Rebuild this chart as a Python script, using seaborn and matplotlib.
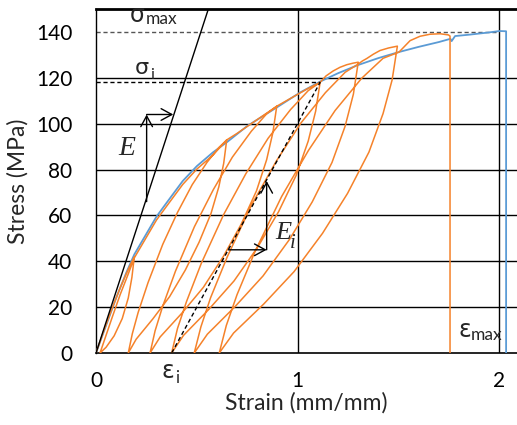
import matplotlib
matplotlib.use("Agg")
import matplotlib.pyplot as plt
import pandas as pd
import seaborn as sns

# ---------------- data ----------------
y_ticks = [0, 20, 40, 60, 80, 100, 120, 140]
x_ticks = [0, 1, 2]
grid_y = [20, 40, 60, 80, 100, 120]
grid_x = [1, 2]

# monotonic envelope (blue)
env_strain = [0.0, 0.05, 0.10, 0.15, 0.19, 0.25, 0.30, 0.35, 0.43, 0.50, 0.58, 0.65,
              0.75, 0.90, 1.01, 1.11, 1.20, 1.30, 1.40, 1.50, 1.60, 1.70, 1.757,
              1.763, 1.78, 1.85, 1.95, 2.00, 2.033, 2.033]
env_stress = [0.0, 12.0, 24.0, 35.0, 43.0, 52.0, 59.5, 65.5, 75.0, 81.5, 87.5, 92.0,
              99.0, 107.3, 113.5, 118.3, 122.0, 125.6, 128.6, 131.2, 133.5, 135.6, 137.0,
              136.0, 138.2, 138.8, 139.8, 140.4, 140.3, 0.0]

# cyclic test (orange), segments in loading order
load0_x = [0.0, 0.04, 0.08, 0.12, 0.16, 0.19]
load0_y = [0.0, 10.0, 19.5, 28.5, 36.5, 42.0]
unl0_x = [0.19, 0.178, 0.16, 0.13, 0.09, 0.05, 0.02]
unl0_y = [42.0, 33.0, 24.0, 15.0, 7.5, 2.5, 0.0]
rel0_x = [0.02, 0.045, 0.08, 0.12, 0.16, 0.19]
rel0_y = [0.0, 6.5, 15.5, 25.5, 34.5, 41.5]
envA_x = [0.19, 0.25, 0.30, 0.35, 0.43, 0.50, 0.58, 0.648]
envA_y = [41.5, 50.5, 58.0, 64.0, 73.5, 80.2, 86.3, 92.9]

unl1_x = [0.648, 0.633, 0.609, 0.570, 0.511, 0.443, 0.365, 0.282, 0.199, 0.160]
unl1_y = [92.9, 82.7, 72.5, 60.8, 48.3, 36.2, 24.6, 14.9, 6.0, 0.0]
rel1_x = [0.160, 0.180, 0.209, 0.258, 0.331, 0.404, 0.477, 0.550, 0.609, 0.648]
rel1_y = [0.0, 8.4, 17.7, 30.7, 47.4, 61.3, 73.4, 83.1, 89.6, 92.9]
envB_x = [0.648, 0.70, 0.75, 0.80, 0.85, 0.896]
envB_y = [92.9, 95.8, 98.8, 101.8, 104.8, 107.6]

unl2_x = [0.896, 0.877, 0.846, 0.796, 0.720, 0.632, 0.532, 0.425, 0.318, 0.268]
unl2_y = [107.6, 96.2, 84.3, 70.8, 56.2, 42.2, 28.6, 17.3, 7.0, 0.0]
rel2_x = [0.268, 0.293, 0.331, 0.394, 0.488, 0.582, 0.676, 0.770, 0.846, 0.896]
rel2_y = [0.0, 9.7, 20.5, 35.7, 55.1, 71.3, 85.4, 96.7, 104.3, 107.6]
envC_x = [0.896, 0.95, 1.00, 1.05, 1.111]
envC_y = [107.6, 110.3, 112.8, 115.3, 118.0]

unl3_x = [1.111, 1.089, 1.052, 0.993, 0.905, 0.802, 0.684, 0.559, 0.434, 0.375]
unl3_y = [118.0, 105.5, 92.4, 77.6, 61.6, 46.2, 31.4, 19.0, 7.7, 0.0]
rel3_x = [0.375, 0.404, 0.449, 0.522, 0.633, 0.743, 0.853, 0.964, 1.052, 1.111]
rel3_y = [0.0, 10.7, 22.5, 39.1, 60.4, 78.2, 93.6, 106.1, 114.4, 118.0]
arcD_x = [1.111, 1.14, 1.176, 1.21, 1.243, 1.275, 1.30]
arcD_y = [118.0, 120.8, 123.0, 124.6, 125.7, 126.4, 126.8]

unl4_x = [1.300, 1.276, 1.235, 1.170, 1.072, 0.959, 0.828, 0.690, 0.552, 0.487]
unl4_y = [126.8, 112.9, 98.9, 83.1, 65.9, 49.5, 33.6, 20.3, 8.2, 0.0]
rel4_x = [0.487, 0.520, 0.568, 0.650, 0.772, 0.894, 1.015, 1.137, 1.235, 1.300]
rel4_y = [0.0, 11.4, 24.1, 41.8, 64.7, 83.7, 100.2, 113.5, 122.4, 126.0]
arcE_x = [1.300, 1.32, 1.342, 1.375, 1.408, 1.45, 1.494]
arcE_y = [126.0, 127.3, 128.4, 130.3, 131.9, 133.0, 133.8]

unl5_x = [1.494, 1.468, 1.423, 1.353, 1.247, 1.123, 0.982, 0.832, 0.682, 0.611]
unl5_y = [133.8, 119.1, 104.4, 87.6, 69.6, 52.2, 35.5, 21.4, 8.7, 0.0]
rel5_x = [0.611, 0.646, 0.699, 0.788, 0.920, 1.053, 1.185, 1.317, 1.423, 1.502]
rel5_y = [0.0, 12.0, 25.4, 44.2, 68.2, 88.3, 105.7, 119.8, 128.5, 131.2]
arcF_x = [1.502, 1.557, 1.606, 1.656, 1.706, 1.747, 1.755, 1.755]
arcF_y = [131.2, 136.2, 138.1, 139.0, 139.2, 138.7, 138.2, 0.0]

cyc_x = (load0_x + unl0_x + rel0_x + envA_x + unl1_x + rel1_x + envB_x +
         unl2_x + rel2_x + envC_x + unl3_x + rel3_x + arcD_x +
         unl4_x + rel4_x + arcE_x + unl5_x + rel5_x + arcF_x)
cyc_y = (load0_y + unl0_y + rel0_y + envA_y + unl1_y + rel1_y + envB_y +
         unl2_y + rel2_y + envC_y + unl3_y + rel3_y + arcD_y +
         unl4_y + rel4_y + arcE_y + unl5_y + rel5_y + arcF_y)

# annotation lines
E_line_x = [0.0, 0.557]
E_line_y = [0.0, 150.0]
sigma_max = 140.0
sigma_i = 118.0
eps_i = 0.375
eps_i_peak = 1.111

# ---------------- plot ----------------
sns.set_theme(style="white")
plt.rcParams["font.family"] = ["Lato", "DejaVu Sans"]

fig = plt.figure(figsize=(5.17, 4.25), dpi=100)
ax = fig.add_axes([96 / 517, 72 / 425, 421 / 517, 344 / 425])

env_df = pd.DataFrame({"strain": env_strain, "stress": env_stress})
cyc_df = pd.DataFrame({"strain": cyc_x, "stress": cyc_y})

for gy in grid_y:
    ax.axhline(gy, color="black", lw=1.0, zorder=1)
for gx in grid_x:
    ax.axvline(gx, color="black", lw=1.0, zorder=1)

sns.lineplot(data=env_df, x="strain", y="stress", sort=False, estimator=None,
             color="#5B9BD5", lw=1.3, ax=ax, zorder=3)
sns.lineplot(data=cyc_df, x="strain", y="stress", sort=False, estimator=None,
             color="#F5822A", lw=1.1, ax=ax, zorder=4)

# dashed helper lines
ax.plot([0, 2.0], [sigma_max, sigma_max], color="#555555", lw=1.0,
        ls=(0, (3, 2)), zorder=2)
ax.plot([0, eps_i_peak], [sigma_i, sigma_i], color="black", lw=1.0,
        ls=(0, (3, 2)), zorder=5)
ax.plot([eps_i, eps_i_peak], [0, sigma_i], color="black", lw=1.0,
        ls=(0, (3, 2)), zorder=5)
ax.plot(E_line_x, E_line_y, color="black", lw=1.0, zorder=5)

arrow = dict(arrowstyle="->,head_length=0.55,head_width=0.3", lw=1.0,
             color="black", shrinkA=0, shrinkB=0, mutation_scale=14)
ax.annotate("", xy=(0.251, 104), xytext=(0.251, 66), arrowprops=arrow, zorder=6)
ax.annotate("", xy=(0.383, 104), xytext=(0.251, 104), arrowprops=arrow, zorder=6)
ax.annotate("", xy=(0.846, 45), xytext=(0.656, 45), arrowprops=arrow, zorder=6)
ax.annotate("", xy=(0.846, 75), xytext=(0.846, 45), arrowprops=arrow, zorder=6)

serif = ["Liberation Serif", "DejaVu Serif"]
ax.text(0.111, 86.2, "E", fontsize=20, style="italic", family=serif,
        ha="left", va="baseline", zorder=7)
ax.text(0.887, 49.5, "E", fontsize=19, style="italic", family=serif,
        ha="left", va="baseline", zorder=7)
ax.text(0.962, 46.0, "i", fontsize=15, style="italic", family=serif,
        ha="left", va="baseline", zorder=7)

greek = ["DejaVu Sans"]
ax.text(0.169, 144.5, "σ", fontsize=17, family=greek, ha="left", va="baseline")
ax.text(0.247, 143.3, "max", fontsize=12.5, ha="left", va="baseline")
ax.text(0.193, 121.5, "σ", fontsize=16, family=greek, ha="left", va="baseline")
ax.text(0.270, 119.5, "i", fontsize=11.5, ha="left", va="baseline")
ax.text(0.326, -11.1, "ε", fontsize=17, family=greek, ha="left", va="baseline",
        clip_on=False)
ax.text(0.392, -13.2, "i", fontsize=12, ha="left", va="baseline", clip_on=False)
ax.text(1.796, 7.1, "ε", fontsize=17, family=greek, ha="left", va="baseline")
ax.text(1.858, 5.7, "max", fontsize=12.5, ha="left", va="baseline")

ax.set_xlim(0, 2.087)
ax.set_ylim(0, 150)
ax.set_xticks(x_ticks)
ax.set_xticklabels([str(v) for v in x_ticks])
ax.set_yticks(y_ticks)
ax.set_yticklabels([str(v) for v in y_ticks])
ax.tick_params(axis="both", labelsize=15, colors="black", direction="out")
ax.tick_params(axis="x", length=4, width=1, pad=9)
ax.tick_params(axis="y", length=3, width=1, pad=14)
ax.set_xlabel("Strain (mm/mm)", fontsize=16.5, labelpad=1)
ax.set_ylabel("Stress (MPa)", fontsize=16.5, labelpad=5)

for side in ["left", "bottom", "top"]:
    ax.spines[side].set_visible(True)
    ax.spines[side].set_color("black")
ax.spines["left"].set_linewidth(1.0)
ax.spines["bottom"].set_linewidth(1.2)
ax.spines["top"].set_linewidth(2.0)
ax.spines["right"].set_visible(False)

fig.savefig("out.png", dpi=100)
